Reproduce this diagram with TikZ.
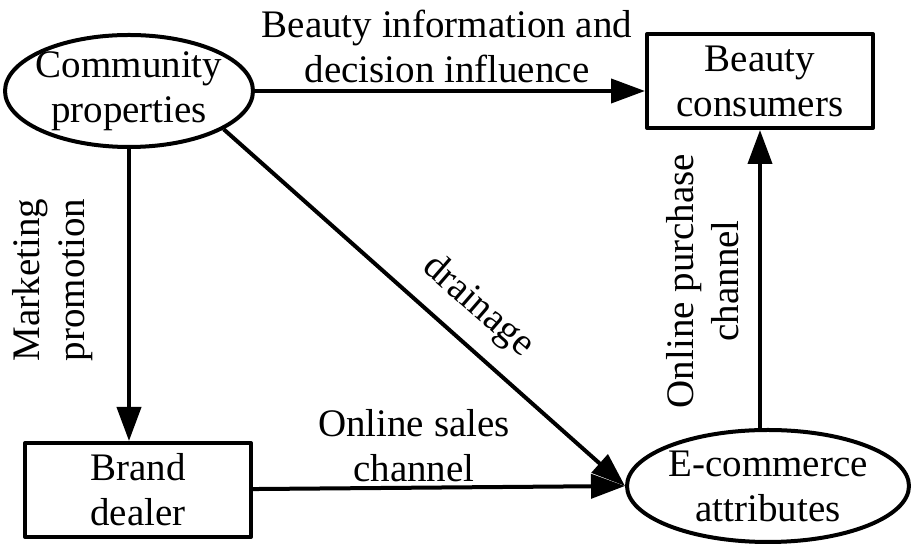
\documentclass[tikz,border=0pt]{standalone}
\usepackage{fontspec}
\setmainfont{Liberation Serif}
\usetikzlibrary{arrows.meta,shapes.geometric}
\begin{document}
\begin{tikzpicture}[x=0.5pt,y=-0.5pt,>={Triangle[length=17pt,width=12pt]},
  font=\fontsize{19.5}{22.5}\selectfont, line width=2pt, line join=round,
  box/.style={draw,rectangle,align=center,minimum width=113pt,minimum height=47pt,inner sep=0pt},
  oval/.style={draw,ellipse,align=center,inner sep=-4pt,minimum height=56pt},
  lbl/.style={align=center,inner sep=0pt}]
\useasboundingbox (0,0) rectangle (912,544);
\node[oval,minimum width=124pt] (comm) at (129,91) {Community\\properties};
\node[box] (cons) at (760,81) {Beauty\\consumers};
\node[box] (brand) at (138,490) {Brand\\dealer};
\node[oval,minimum width=141pt] (ecom) at (768,486) {E-commerce\\attributes};
\draw[->] (comm.east) -- (comm.east -| cons.west);
\draw[->] (comm.south) -- (comm.south |- brand.north);
\draw[->] (comm.-22) -- (ecom.west);
\draw[->] (brand) -- (ecom.west);
\draw[->] (cons.south |- ecom.north) -- (cons.south);
\node[lbl] (infolbl) at (447,46) {Beauty information and\\decision influence};
\node[lbl,rotate=90] (mktlbl) at (53,280) {Marketing\\promotion};
\node[lbl,rotate=-41] (drnlbl) at (478,307) {drainage};
\node[lbl] (saleslbl) at (414,446) {Online sales\\channel};
\node[lbl,rotate=90] (purchlbl) at (703,281) {Online purchase\\channel};
\end{tikzpicture}
\end{document}
